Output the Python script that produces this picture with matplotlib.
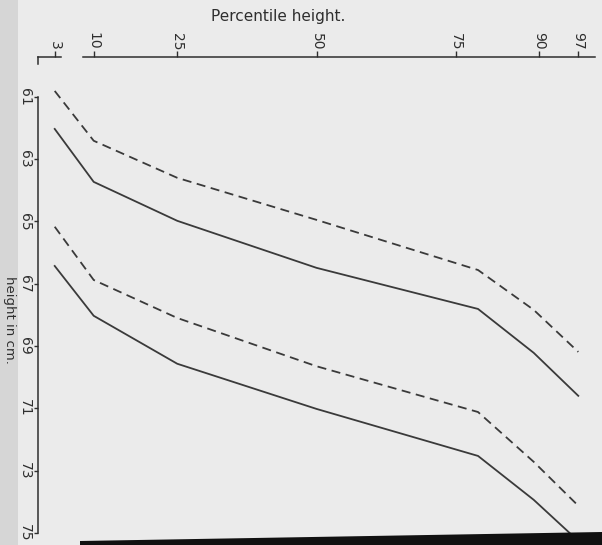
import matplotlib
matplotlib.use("Agg")
import matplotlib.pyplot as plt
from matplotlib.patches import Polygon, Rectangle
from matplotlib.lines import Line2D

# Percentile positions at which the curves were plotted
percentile_points = [3, 10, 25, 50, 79, 89, 97]

# Heights (cm) for the four curves
upper_solid = [62.03, 63.73, 64.98, 66.49, 67.81, 69.22, 70.60]
upper_dashed = [60.81, 62.41, 63.60, 64.95, 66.56, 67.84, 69.19]
lower_solid = [66.43, 68.03, 69.57, 71.02, 72.53, 73.94, 75.26]
lower_dashed = [65.17, 66.88, 68.10, 69.65, 71.12, 72.72, 74.13]

# Axis ticks
percentile_ticks = [3, 10, 25, 50, 75, 90, 97]
height_ticks = [61, 63, 65, 67, 69, 71, 73, 75]

W, H = 602, 545
plt.rcParams["lines.scale_dashes"] = False
plt.rcParams["font.family"] = ["DejaVu Sans"]

bg = "#ebebeb"
ink = "#2e2e2e"
line_col = "#3a3a3a"

fig = plt.figure(figsize=(W / 100, H / 100), dpi=100, facecolor=bg)
ax = fig.add_axes([38 / W, 0, 557 / W, 488 / H])
ax.set_facecolor("none")

ax.set_xlim(0, 100)
ax.set_ylim(75.39, 59.72)

for ys, style in [(upper_solid, "-"), (upper_dashed, "--"),
                  (lower_solid, "-"), (lower_dashed, "--")]:
    ln, = ax.plot(percentile_points, ys, color=line_col, lw=1.3,
                  linestyle=style, clip_on=False)
    if style == "--":
        ln.set_dashes((6.5, 4.0))

# Spines: percentile scale along the top, height scale on the left
for s in ("right", "bottom"):
    ax.spines[s].set_visible(False)
ax.spines["top"].set_color(ink)
ax.spines["top"].set_linewidth(1.1)
ax.spines["top"].set_bounds(8.1, 100)
ax.spines["left"].set_color(ink)
ax.spines["left"].set_linewidth(1.1)
ax.spines["left"].set_bounds(61, 75)

# Short detached piece of the percentile scale at its left end, with a hook
ax.add_line(Line2D([0, 4.1], [1, 1], transform=ax.get_xaxis_transform(),
                   color=ink, lw=1.1, clip_on=False))
ax.add_line(Line2D([0, 0], [1, 1 - 7 / 488], transform=ax.get_xaxis_transform(),
                   color=ink, lw=1.1, clip_on=False))

ax.xaxis.tick_top()
ax.set_xticks(percentile_ticks)
ax.set_xticklabels([str(t) for t in percentile_ticks], rotation=-90,
                   fontsize=10, color=ink)
ax.tick_params(axis="x", direction="out", length=4, width=1.0,
               pad=1, colors=ink)

ax.set_yticks(height_ticks)
ax.set_yticklabels([str(t) for t in height_ticks], rotation=-90,
                   fontsize=10, color=ink, va="center")
ax.tick_params(axis="y", direction="out", length=3, width=1.0,
               pad=1.5, colors=ink)

fig.text(278 / W, 1 - 16 / H, "Percentile height.", ha="center",
         va="center", fontsize=11, color=ink)
fig.text(9 / W, 1 - 320 / H, "height in cm.", ha="center", va="center",
         rotation=-90, fontsize=9.5, color=ink)

# Darker paper edge on the left and dark strip along the bottom
fig.patches.append(Rectangle((0, 0), 18 / W, 1, transform=fig.transFigure,
                             facecolor="#d6d6d6", edgecolor="none",
                             zorder=-1))
fig.patches.append(Polygon([(80 / W, 4 / H), (1, 13 / H), (1, 0), (80 / W, 0)],
                           closed=True, transform=fig.transFigure,
                           facecolor="#111111", edgecolor="none", zorder=5))

fig.savefig("out.png", dpi=100, facecolor=bg)
